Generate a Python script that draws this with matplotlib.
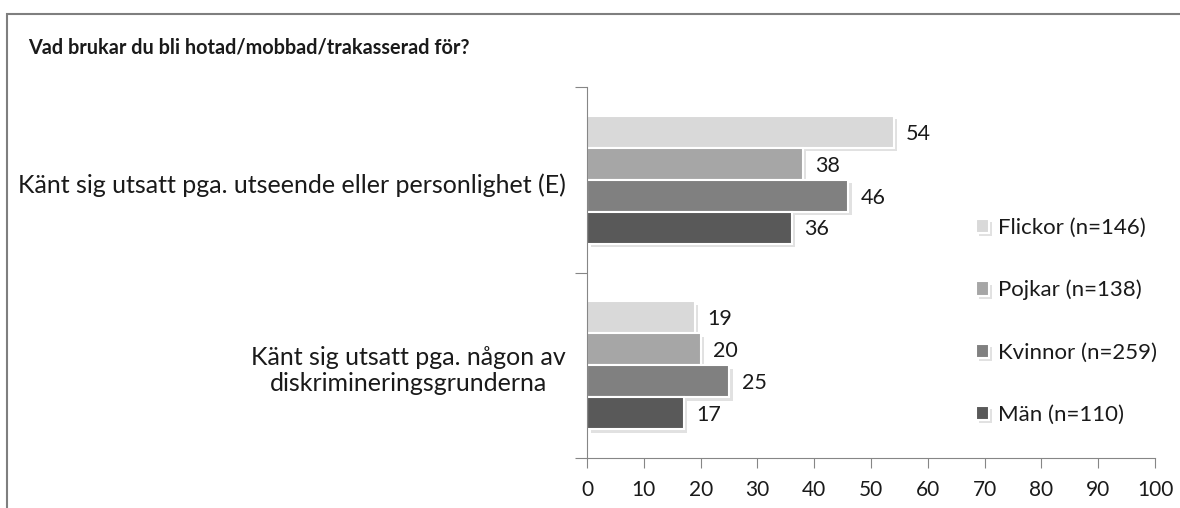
import matplotlib.pyplot as plt
import matplotlib.patheffects as pe
import numpy as np

categories = ['Känt sig utsatt pga. utseende eller personlighet (E)',
              'Känt sig utsatt pga. någon av\ndiskrimineringsgrunderna']
groups = ['Flickor (n=146)', 'Pojkar (n=138)', 'Kvinnor (n=259)', 'Män (n=110)']
values = [[54, 19], [38, 20], [46, 25], [36, 17]]
colors = ['#d9d9d9', '#a6a6a6', '#808080', '#595959']
xticks = list(range(0, 101, 10))

plt.rcParams['font.family'] = ['Lato', 'DejaVu Sans']
plt.rcParams['text.color'] = '#1a1a1a'

fig = plt.figure(figsize=(11.8, 5.08), dpi=100)
ax = fig.add_axes([0.4975, 0.0984, 0.4813, 0.7303])

bar_h = 0.172
y = np.arange(len(categories))
shadow = [pe.SimplePatchShadow(offset=(2.5, -2.5), shadow_rgbFace='#b5b5b5', alpha=0.4), pe.Normal()]
for i, (g, vals, c) in enumerate(zip(groups, values, colors)):
    pos = y - 1.5 * bar_h + i * bar_h
    bars = ax.barh(pos, vals, height=bar_h, color=c, edgecolor='white', linewidth=1.5,
                   label=g, path_effects=shadow)
    for b, v in zip(bars, vals):
        ax.text(v + 2.2, b.get_y() + b.get_height() / 2 + 0.01, str(v), va='center', ha='left',
                fontsize=15.5)

ax.set_xlim(0, 100)
ax.set_ylim(1.5, -0.5)
ax.set_xticks(xticks)
ax.tick_params(axis='x', direction='out', length=7, color='#868686', labelsize=15,
               labelcolor='#1a1a1a', pad=9)
ax.set_yticks([-0.5, 0.5, 1.5])
ax.set_yticklabels([])
ax.tick_params(axis='y', direction='out', length=9, color='#868686')
for s in ['top', 'right']:
    ax.spines[s].set_visible(False)
for s in ['left', 'bottom']:
    ax.spines[s].set_color('#868686')

ax.text(-0.038, 0.03, categories[0], transform=ax.get_yaxis_transform(), ha='right', va='center',
        fontsize=18)
ax.text(-0.038, 1.03, categories[1], transform=ax.get_yaxis_transform(), ha='right', va='center',
        fontsize=18, multialignment='center', linespacing=1.15)

ax.legend(loc='center left', bbox_to_anchor=(0.649, 0.369), frameon=False, fontsize=16,
          handlelength=0.6, handleheight=0.6, handletextpad=0.4, labelspacing=1.9)

fig.text(0.024, 0.907, 'Vad brukar du bli hotad/mobbad/trakasserad för?', fontsize=14.3,
         fontweight='bold', va='center')

border = plt.Rectangle((0.006, -0.1), 1.2, 1.072, transform=fig.transFigure, fill=False,
                       edgecolor='#7f7f7f', linewidth=1.5)
fig.patches.append(border)

fig.savefig('out.png', dpi=100)
